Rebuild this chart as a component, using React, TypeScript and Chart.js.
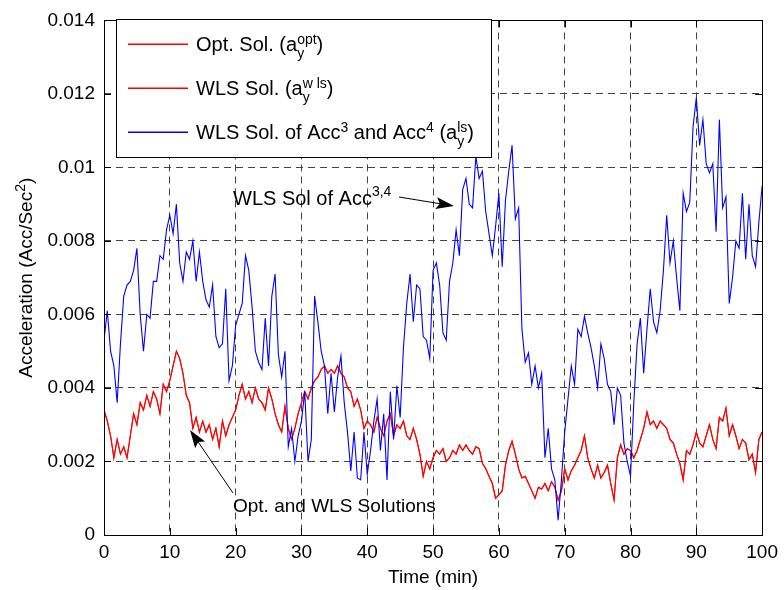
import React, { useEffect, useRef } from 'react';
import { Chart, registerables } from 'chart.js';

Chart.register(...registerables);

const FONT = '"Liberation Sans", Arial, Helvetica, sans-serif';

// Time (min)
const time = [
  0, 0.5, 1, 1.5, 2, 2.5, 3, 3.5, 4, 4.5, 5, 5.5, 6, 6.5, 7, 7.5, 8, 8.5, 9, 9.5,
  10, 10.5, 11, 11.5, 12, 12.5, 13, 13.5, 14, 14.5, 15, 15.5, 16, 16.5, 17, 17.5, 18, 18.5, 19, 19.5,
  20, 20.5, 21, 21.5, 22, 22.5, 23, 23.5, 24, 24.5, 25, 25.5, 26, 26.5, 27, 27.5, 28, 28.5, 29, 29.5,
  30, 30.5, 31, 31.5, 32, 32.5, 33, 33.5, 34, 34.5, 35, 35.5, 36, 36.5, 37, 37.5, 38, 38.5, 39, 39.5,
  40, 40.5, 41, 41.5, 42, 42.5, 43, 43.5, 44, 44.5, 45, 45.5, 46, 46.5, 47, 47.5, 48, 48.5, 49, 49.5,
  50, 50.5, 51, 51.5, 52, 52.5, 53, 53.5, 54, 54.5, 55, 55.5, 56, 56.5, 57, 57.5, 58, 58.5, 59, 59.5,
  60, 60.5, 61, 61.5, 62, 62.5, 63, 63.5, 64, 64.5, 65, 65.5, 66, 66.5, 67, 67.5, 68, 68.5, 69, 69.5,
  70, 70.5, 71, 71.5, 72, 72.5, 73, 73.5, 74, 74.5, 75, 75.5, 76, 76.5, 77, 77.5, 78, 78.5, 79, 79.5,
  80, 80.5, 81, 81.5, 82, 82.5, 83, 83.5, 84, 84.5, 85, 85.5, 86, 86.5, 87, 87.5, 88, 88.5, 89, 89.5,
  90, 90.5, 91, 91.5, 92, 92.5, 93, 93.5, 94, 94.5, 95, 95.5, 96, 96.5, 97, 97.5, 98, 98.5, 99, 99.5,
  100,
];

// Opt. / WLS solution (a_y), in units of 1e-3 Acc/Sec^2
const optSol = [
  3.4, 3.1, 2.7, 2.1, 2.6, 2.2, 2.4, 2.1, 2.7, 3.3, 3.0, 3.6, 3.4, 3.8, 3.5, 3.9, 3.7, 3.3, 4.1, 3.9,
  4.2, 4.6, 5.0, 4.8, 4.4, 3.8, 3.6, 2.9, 3.2, 2.8, 3.1, 2.8, 3.0, 2.6, 2.9, 2.4, 3.1, 2.7, 3.0, 3.2,
  3.4, 3.8, 4.1, 3.7, 3.9, 3.6, 4.0, 3.7, 3.6, 3.4, 4.0, 3.7, 3.3, 3.0, 2.8, 3.5, 2.9, 2.6, 2.9, 3.3,
  3.6, 3.9, 3.7, 4.0, 4.2, 4.3, 4.5, 4.6, 4.4, 4.5, 4.4, 4.6, 4.4, 4.3, 4.0, 3.9, 3.5, 3.7, 3.4, 2.9,
  3.1, 3.0, 2.8, 3.2, 2.9, 2.7, 3.1, 3.3, 2.7, 3.0, 2.9, 3.1, 2.7, 2.6, 2.9, 2.6, 2.2, 1.6, 2.0, 1.8,
  2.1, 2.3, 2.2, 2.35, 2.0, 2.1, 2.3, 2.2, 2.45, 2.3, 2.45, 2.3, 2.2, 2.4, 2.35, 1.95, 1.8, 1.6, 1.4, 1.0,
  1.1, 1.2, 1.9, 2.3, 2.55, 2.2, 1.8, 1.55, 1.6, 1.4, 1.2, 1.0, 1.3, 1.25, 1.4, 1.2, 1.45, 1.3, 0.95, 1.2,
  1.8, 1.5, 1.75, 1.9, 2.1, 2.3, 2.7, 2.1, 1.8, 1.55, 1.9, 1.55, 1.7, 1.9, 1.4, 0.95, 2.1, 2.45, 2.2, 2.35,
  2.3, 2.1, 2.3, 2.6, 2.9, 3.35, 3.0, 3.1, 2.9, 3.1, 3.0, 2.9, 2.6, 2.5, 2.2, 1.95, 1.5, 2.3, 2.2, 2.45,
  2.8, 2.5, 2.4, 2.7, 3.0, 2.6, 2.35, 3.2, 3.1, 3.45, 2.7, 3.0, 2.7, 2.35, 2.6, 2.5, 2.05, 2.2, 1.7, 2.6,
  2.8,
];

// WLS solution of Acc3 and Acc4 (a_y^ls), in units of 1e-3 Acc/Sec^2
const wlsAcc34 = [
  5.3, 6.1, 5.0, 4.6, 3.6, 5.2, 6.5, 6.8, 6.9, 7.2, 7.8, 6.0, 5.0, 6.0, 5.9, 6.9, 6.9, 7.6, 7.5, 8.3,
  8.7, 8.2, 9.0, 7.4, 6.9, 7.7, 7.5, 8.0, 6.9, 7.7, 6.9, 6.4, 6.2, 6.8, 5.4, 5.1, 5.2, 6.7, 4.2, 4.6,
  5.7, 6.0, 6.3, 7.6, 7.2, 6.2, 5.0, 4.7, 4.5, 5.9, 4.6, 6.5, 7.1, 4.9, 4.3, 5.0, 2.4, 2.9, 2.0, 2.7,
  3.1, 3.9, 2.0, 2.6, 6.5, 5.8, 5.0, 4.6, 3.3, 4.4, 3.35, 4.3, 4.87, 3.6, 2.8, 1.74, 2.8, 1.55, 1.5, 2.8,
  1.65, 2.3, 3.1, 3.7, 2.3, 3.3, 1.5, 3.9, 2.6, 4.06, 3.2, 5.1, 6.3, 7.1, 5.8, 6.8, 6.7, 5.4, 5.3, 4.8,
  7.2, 7.4, 6.8, 5.5, 5.3, 6.9, 7.4, 8.3, 7.6, 9.4, 9.7, 9.0, 8.9, 10.3, 9.7, 9.9, 8.8, 8.2, 7.6, 8.4,
  9.3, 7.3, 9.1, 9.9, 10.6, 8.6, 8.9, 5.6, 4.7, 4.95, 4.1, 4.6, 4.0, 4.4, 2.1, 2.9, 1.8, 1.5, 0.4, 1.5,
  2.8, 3.7, 4.6, 4.1, 5.6, 5.4, 5.95, 5.5, 5.1, 4.6, 4.0, 5.2, 4.8, 4.1, 3.9, 3.0, 4.0, 3.8, 2.5, 2.0,
  1.6, 3.6, 5.2, 5.9, 4.4, 5.6, 6.7, 5.8, 5.5, 6.1, 7.2, 8.7, 7.4, 8.0, 7.0, 6.1, 9.3, 8.8, 9.05, 11.1,
  11.9, 10.6, 11.3, 10.1, 9.85, 10.1, 8.25, 11.3, 8.9, 9.2, 6.3, 7.0, 8.0, 7.8, 9.3, 7.5, 9.0, 7.6, 7.3, 8.5,
  9.5,
];

const xTickValues = [0, 10, 20, 30, 40, 50, 60, 70, 80, 90, 100];
const xTickLabels = ['0', '10', '20', '30', '40', '50', '60', '70', '80', '90', '100'];
const yTickValues = [0, 2, 4, 6, 8, 10, 12, 14];
const yTickLabels = ['0', '0.002', '0.004', '0.006', '0.008', '0.01', '0.012', '0.014'];

const RED = 'rgb(255,0,0)';
const BLUE = 'rgb(0,0,255)';

type Part = { t: string; sup?: string; sub?: string };

const legendRows: { color: string; parts: Part[] }[] = [
  { color: RED, parts: [{ t: 'Opt. Sol. (a', sub: 'y', sup: 'opt' }, { t: ')' }] },
  { color: RED, parts: [{ t: 'WLS Sol. (a', sub: 'y', sup: 'w ls' }, { t: ')' }] },
  {
    color: BLUE,
    parts: [
      { t: 'WLS Sol. of Acc', sup: '3' },
      { t: ' and Acc', sup: '4' },
      { t: ' (a', sub: 'y', sup: 'ls' },
      { t: ')' },
    ],
  },
];

function drawRich(
  ctx: CanvasRenderingContext2D,
  x: number,
  y: number,
  parts: Part[],
  size: number,
  small: number,
  raise: number,
  drop: number,
  draw = true
) {
  for (const p of parts) {
    if (p.t) {
      ctx.font = `${size}px ${FONT}`;
      if (draw) ctx.fillText(p.t, x, y);
      x += ctx.measureText(p.t).width;
    }
    if (p.sup || p.sub) {
      ctx.font = `${small}px ${FONT}`;
      let w = 0;
      if (p.sup) {
        if (draw) ctx.fillText(p.sup, x, y - raise);
        w = Math.max(w, ctx.measureText(p.sup).width);
      }
      if (p.sub) {
        if (draw) ctx.fillText(p.sub, x, y + drop);
        w = Math.max(w, ctx.measureText(p.sub).width);
      }
      x += w;
    }
  }
  return x;
}

function arrow(ctx: CanvasRenderingContext2D, x1: number, y1: number, x2: number, y2: number) {
  const len = 18;
  const half = 6;
  const a = Math.atan2(y2 - y1, x2 - x1);
  const cx = Math.cos(a);
  const cy = Math.sin(a);
  ctx.strokeStyle = '#000';
  ctx.lineWidth = 1;
  ctx.beginPath();
  ctx.moveTo(x1, y1);
  ctx.lineTo(x2 - len * 0.7 * cx, y2 - len * 0.7 * cy);
  ctx.stroke();
  ctx.fillStyle = '#000';
  ctx.beginPath();
  ctx.moveTo(x2, y2);
  ctx.lineTo(x2 - len * cx - half * cy, y2 - len * cy + half * cx);
  ctx.lineTo(x2 - len * 0.8 * cx, y2 - len * 0.8 * cy);
  ctx.lineTo(x2 - len * cx + half * cy, y2 - len * cy - half * cx);
  ctx.closePath();
  ctx.fill();
}

const decor = {
  id: 'decor',
  afterDraw(chart: any) {
    const ctx: CanvasRenderingContext2D = chart.ctx;
    const { left, right, top, bottom } = chart.chartArea;
    const xs = chart.scales.x;
    const ys = chart.scales.y;
    ctx.save();
    ctx.setLineDash([]);
    ctx.strokeStyle = '#000';
    ctx.lineWidth = 1;
    // axes box
    ctx.strokeRect(Math.round(left) + 0.5, Math.round(top) + 0.5, Math.round(right - left), Math.round(bottom - top));
    // inward ticks
    const tl = 7;
    ctx.beginPath();
    for (const v of xTickValues) {
      const px = Math.round(xs.getPixelForValue(v)) + 0.5;
      ctx.moveTo(px, bottom);
      ctx.lineTo(px, bottom - tl);
      ctx.moveTo(px, top);
      ctx.lineTo(px, top + tl);
    }
    for (const v of yTickValues) {
      const py = Math.round(ys.getPixelForValue(v)) + 0.5;
      ctx.moveTo(left, py);
      ctx.lineTo(left + tl, py);
      ctx.moveTo(right, py);
      ctx.lineTo(right - tl, py);
    }
    ctx.stroke();

    // legend box
    const lx = 116, ly = 19, lw = 375, lh = 138;
    ctx.fillStyle = '#fff';
    ctx.fillRect(lx, ly, lw, lh);
    ctx.strokeStyle = '#000';
    ctx.strokeRect(lx + 0.5, ly + 0.5, lw, lh);
    const rowY = [44, 88, 132];
    for (let i = 0; i < legendRows.length; i++) {
      const row = legendRows[i];
      ctx.fillStyle = row.color;
      ctx.fillRect(128, rowY[i] - 0.5, 60, 1.5);
      ctx.fillStyle = '#000';
      ctx.textAlign = 'left';
      ctx.textBaseline = 'alphabetic';
      drawRich(ctx, 196, rowY[i] + 6.5, row.parts, 20, 14, 7, 7);
    }

    // annotations
    ctx.fillStyle = '#000';
    ctx.textAlign = 'left';
    ctx.textBaseline = 'alphabetic';
    drawRich(ctx, 233, 205, [{ t: 'WLS Sol of Acc', sup: '3,4' }], 20, 14, 9, 0);
    arrow(ctx, 399, 197, 454, 206);
    ctx.fillStyle = '#000';
    ctx.font = `19px ${FONT}`;
    ctx.fillText('Opt. and WLS Solutions', 233, 512);
    arrow(ctx, 233, 493, 190, 430);

    // x-axis title
    ctx.fillStyle = '#000';
    ctx.font = `19px ${FONT}`;
    ctx.textAlign = 'center';
    ctx.fillText('Time (min)', (left + right) / 2, 583);

    // y-axis title (rotated)
    const yParts: Part[] = [{ t: 'Acceleration (Acc/Sec', sup: '2' }, { t: ')' }];
    ctx.textAlign = 'left';
    const w = drawRich(ctx, 0, 0, yParts, 19, 14, 7, 0, false);
    ctx.translate(31.5, (top + bottom) / 2);
    ctx.rotate(-Math.PI / 2);
    drawRich(ctx, -w / 2, 0, yParts, 19, 14, 7, 0);
    ctx.restore();
  },
};

export default function App() {
  const ref = useRef<HTMLCanvasElement | null>(null);
  useEffect(() => {
    if (!ref.current) return;
    const toPts = (arr: number[]) => time.map((t, i) => ({ x: t, y: arr[i] }));
    const chart = new Chart(ref.current, {
      type: 'line',
      data: {
        datasets: [
          {
            label: 'WLS Sol. of Acc3 and Acc4',
            data: toPts(wlsAcc34),
            borderColor: BLUE,
            borderWidth: 1.1,
            pointRadius: 0,
            tension: 0,
            order: 0,
          },
          {
            label: 'Opt. Sol.',
            data: toPts(optSol),
            borderColor: RED,
            borderWidth: 1.1,
            pointRadius: 0,
            tension: 0,
            order: 2,
          },
          {
            label: 'WLS Sol.',
            data: toPts(optSol),
            borderColor: RED,
            borderWidth: 1.1,
            pointRadius: 0,
            tension: 0,
            order: 1,
          },
        ],
      },
      options: {
        animation: false,
        responsive: false,
        devicePixelRatio: 1,
        layout: { padding: { top: 14, right: 21, left: 0, bottom: 0 } },
        plugins: { legend: { display: false }, tooltip: { enabled: false } },
        scales: {
          x: {
            type: 'linear',
            min: 0,
            max: 100,
            afterBuildTicks: (s: any) => {
              s.ticks = xTickValues.map((v) => ({ value: v }));
            },
            afterFit: (s: any) => {
              s.height = 55;
            },
            ticks: {
              callback: (_v: any, i: number) => xTickLabels[i],
              font: { family: FONT, size: 19 },
              color: '#000',
              padding: 6,
              maxRotation: 0,
              autoSkip: false,
            },
            grid: { color: '#444', lineWidth: 1, drawTicks: false },
            border: { display: false, dash: [7, 5] },
          },
          y: {
            type: 'linear',
            min: 0,
            max: 14,
            afterBuildTicks: (s: any) => {
              s.ticks = yTickValues.map((v) => ({ value: v }));
            },
            afterFit: (s: any) => {
              s.width = 104;
            },
            ticks: {
              callback: (_v: any, i: number) => yTickLabels[i],
              font: { family: FONT, size: 19 },
              color: '#000',
              padding: 9,
              autoSkip: false,
            },
            grid: { color: '#444', lineWidth: 1, drawTicks: false },
            border: { display: false, dash: [7, 5] },
          },
        },
      },
      plugins: [decor],
    } as any);
    return () => chart.destroy();
  }, []);
  return (
    <div style={{ position: 'fixed', left: 0, top: 0, width: 784, height: 590, background: '#fff' }}>
      <canvas ref={ref} width={784} height={590} style={{ display: 'block' }} />
    </div>
  );
}
